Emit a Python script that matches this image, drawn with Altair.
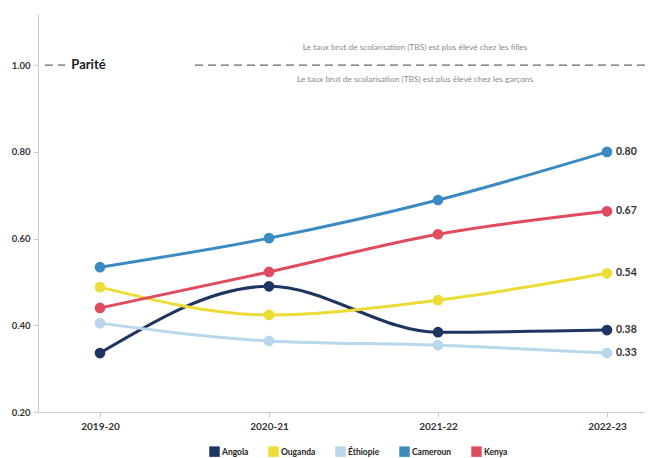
import json
import altair as alt
import pandas as pd

years = ["2019-20", "2020-21", "2021-22", "2022-23"]
countries = ["Angola", "Ouganda", "Éthiopie", "Cameroun", "Kenya"]
colors = ["#1e3461", "#ecdc36", "#b8d7ea", "#3b8bc2", "#e04b5f"]

angola = [0.336, 0.490, 0.384, 0.389]
ouganda = [0.488, 0.424, 0.458, 0.520]
ethiopie = [0.405, 0.364, 0.354, 0.336]
cameroun = [0.534, 0.601, 0.689, 0.800]
kenya = [0.440, 0.523, 0.610, 0.663]
series = [angola, ouganda, ethiopie, cameroun, kenya]
end_labels = ["0.38", "0.54", "0.33", "0.80", "0.67"]

parity_label = "Parité"
note_above = "Le taux brut de scolarisation (TBS) est plus élevé chez les filles"
note_below = "Le taux brut de scolarisation (TBS) est plus élevé chez les garçons"

rows = []
for c, vals in zip(countries, series):
    for i, v in enumerate(vals):
        rows.append({"pays": c, "idx": i, "annee": years[i], "val": v})
df = pd.DataFrame(rows)

end_df = pd.DataFrame({
    "pays": countries,
    "idx": [len(years) - 1] * len(countries),
    "val": [s[-1] for s in series],
    "lab": end_labels,
})

FONT = "Lato"

xscale = alt.Scale(domain=[-0.367, 3.225], nice=False, zero=False)
yscale = alt.Scale(domain=[0.2, 1.118], nice=False, zero=False)

x_enc = alt.X(
    "idx:Q", scale=xscale, title=None,
    axis=alt.Axis(values=list(range(len(years))),
                  labelExpr=json.dumps(years) + "[datum.value]",
                  grid=False, labelFontSize=10, labelFontWeight="bold",
                  labelColor="#333", domainColor="#cccccc", tickColor="#cccccc",
                  tickSize=5, labelPadding=4, labelFont=FONT),
)
y_enc = alt.Y(
    "val:Q", scale=yscale, title=None,
    axis=alt.Axis(values=[0.2, 0.4, 0.6, 0.8, 1.0], format=".2f", grid=False,
                  labelFontSize=9.5, labelFontWeight="bold", labelColor="#333",
                  domainColor="#cccccc", tickColor="#cccccc", tickSize=5,
                  labelPadding=3, labelFont=FONT),
)

color_enc = alt.Color(
    "pays:N",
    scale=alt.Scale(domain=countries, range=colors),
    sort=countries,
    legend=alt.Legend(
        title=None, orient="none", legendX=171, legendY=432,
        direction="horizontal", columns=5, symbolType="square",
        symbolSize=110, symbolStrokeWidth=0, labelFontSize=8.5,
        labelFontWeight="bold", labelColor="#222", labelFont=FONT,
        columnPadding=19, symbolOffset=0, labelOffset=2, padding=0,
    ),
)

lines = alt.Chart(df).mark_line(interpolate="monotone", strokeWidth=3).encode(
    x=x_enc, y=y_enc, color=color_enc, detail="pays:N")

points = alt.Chart(df).mark_circle(size=115, opacity=1).encode(
    x=x_enc, y=y_enc,
    color=alt.Color("pays:N", scale=alt.Scale(domain=countries, range=colors), legend=None))

labels = alt.Chart(end_df).mark_text(
    align="left", dx=9, fontSize=10.5, fontWeight="bold", color="#333", font=FONT
).encode(x=x_enc, y=y_enc, text="lab:N")

rule_df = pd.DataFrame({"idx": [-0.326, 0.562], "idx2": [-0.207, 3.225], "val": [1.0, 1.0]})
parity_rule = alt.Chart(rule_df).mark_rule(
    color="#666", strokeWidth=1.2, strokeDash=[8, 5]
).encode(x=x_enc, x2="idx2:Q", y=y_enc)

parity_text = alt.Chart(pd.DataFrame({"idx": [-0.17], "val": [1.0], "t": [parity_label]})).mark_text(
    align="left", baseline="middle", fontSize=13, fontWeight="bold", color="#222", font=FONT
).encode(x=x_enc, y=y_enc, text="t:N")

notes_df = pd.DataFrame({"idx": [1.864, 1.864], "val": [1.04, 0.966], "t": [note_above, note_below]})
notes = alt.Chart(notes_df).mark_text(
    align="center", baseline="middle", fontSize=8.3, color="#8a8a8a", font=FONT
).encode(x=x_enc, y=y_enc, text="t:N")

chart = alt.layer(parity_rule, parity_text, notes, lines, points, labels).properties(
    width=607, height=398,
    autosize=alt.AutoSizeParams(type="none"),
    padding={"left": 30, "top": 6, "right": 0, "bottom": 46},
).configure_view(stroke=None)

chart.save("out.html", embed_options={"renderer": "svg", "actions": False})
